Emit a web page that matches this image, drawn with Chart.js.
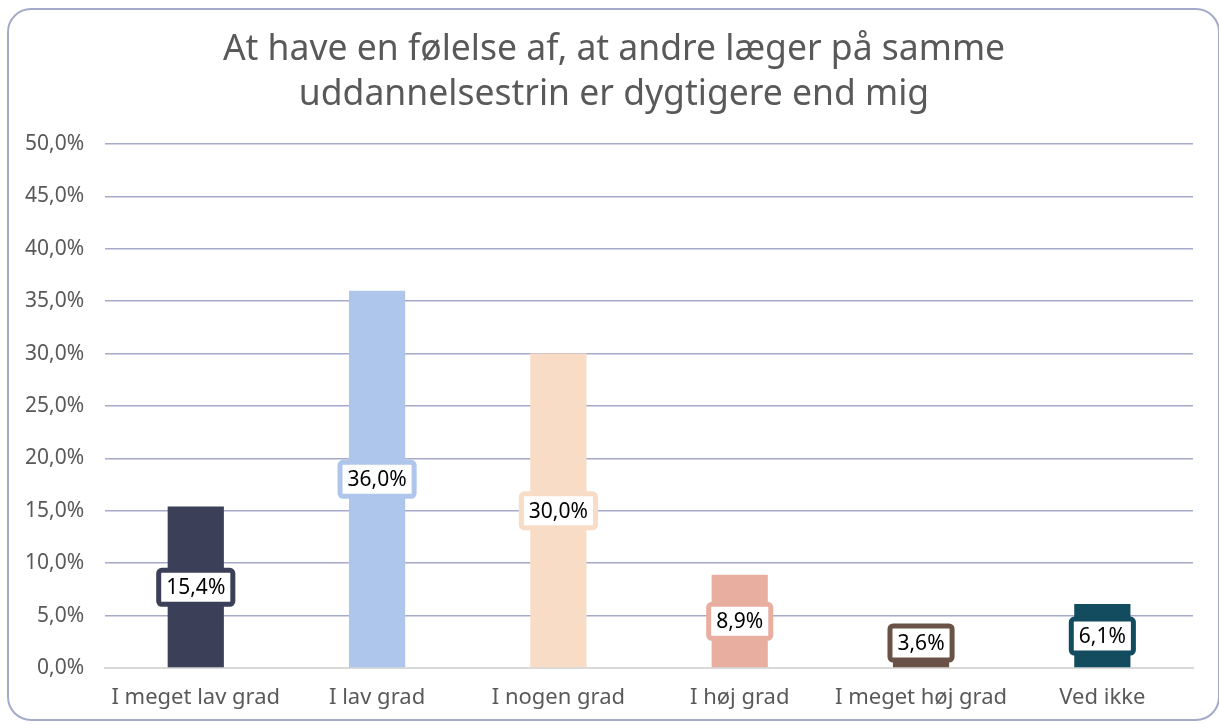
<!DOCTYPE html>
<html>
<head>
<meta charset="utf-8">
<script src="https://cdn.jsdelivr.net/npm/chart.js@4.4.1/dist/chart.umd.min.js"></script>
<style>
  html, body { margin: 0; padding: 0; background: #ffffff; overflow: hidden; }
  #frame {
    position: absolute; left: 7px; top: 8px; width: 1213px; height: 713px;
    border: 2px solid #a3abc9; border-radius: 24px; box-sizing: border-box;
  }
  #wrap { position: absolute; left: 0; top: 0; width: 1219px; height: 724px; }
</style>
</head>
<body>
<div id="frame"></div>
<div id="wrap"><canvas id="chart"></canvas></div>
<script>
// Kategorier og værdier (procent)
const categories = ['I meget lav grad', 'I lav grad', 'I nogen grad', 'I høj grad', 'I meget høj grad', 'Ved ikke'];
const values = [15.4, 36.0, 30.0, 8.9, 3.6, 6.1];
const barColors = ['#3b3f58', '#aec6ec', '#f9dcc6', '#e8aea0', '#6b5246', '#134b5f'];
const titleLines = ['At have en følelse af, at andre læger på samme', 'uddannelsestrin er dygtigere end mig'];

const FONT = '"Noto Sans"';

function pct(v) {
    return v.toFixed(1).replace('.', ',') + '%';
}

// Titlen centreres på rammen, ikke på plotområdet
const frameTitle = {
    id: 'frameTitle',
    afterDraw(chart) {
        const ctx = chart.ctx;
        ctx.save();
        ctx.font = '35.5px ' + FONT;
        ctx.fillStyle = '#595959';
        ctx.textAlign = 'center';
        ctx.textBaseline = 'middle';
        const cx = (chart.width + 9) / 2;
        titleLines.forEach((line, i) => ctx.fillText(line, cx, 50 + i * 45));
        ctx.restore();
    }
};

// Etiketter i hvide bokse med kant i søjlens farve
const boxLabels = {
    id: 'boxLabels',
    afterDatasetsDraw(chart) {
        const ctx = chart.ctx;
        const meta = chart.getDatasetMeta(0);
        const zeroY = chart.scales.y.getPixelForValue(0);
        ctx.save();
        ctx.font = '21px ' + FONT;
        ctx.textAlign = 'center';
        ctx.textBaseline = 'middle';
        meta.data.forEach((bar, i) => {
            const text = pct(values[i]);
            const w = ctx.measureText(text).width + 15;
            const h = 34;
            let cy = (bar.y + zeroY) / 2;
            if (cy + h / 2 > zeroY - 8) cy = zeroY - 8 - h / 2;
            const x = bar.x - w / 2;
            const y = cy - h / 2;
            ctx.beginPath();
            ctx.roundRect(x, y, w, h, 3);
            ctx.fillStyle = '#ffffff';
            ctx.fill();
            ctx.lineWidth = 5;
            ctx.strokeStyle = barColors[i];
            ctx.stroke();
            ctx.fillStyle = '#000000';
            ctx.fillText(text, bar.x, cy + 1);
        });
        ctx.restore();
    }
};

new Chart(document.getElementById('chart'), {
    type: 'bar',
    data: {
        labels: categories,
        datasets: [{
            data: values,
            backgroundColor: barColors,
            borderWidth: 0,
            categoryPercentage: 1,
            barPercentage: 0.31
        }]
    },
    options: {
        responsive: true,
        maintainAspectRatio: false,
        animation: false,
        layout: { padding: { left: 4, right: 26, top: 144, bottom: -4 } },
        plugins: {
            legend: { display: false },
            tooltip: { enabled: false },
            title: { display: false }
        },
        scales: {
            x: {
                grid: { display: false, drawTicks: false },
                border: { display: true, color: '#d9d9d9', width: 2 },
                ticks: {
                    color: '#595959',
                    font: { family: FONT, size: 22, lineHeight: 1 },
                    padding: 19,
                    maxRotation: 0
                }
            },
            y: {
                min: 0,
                max: 50,
                grid: { color: '#a5aacb', lineWidth: 1.5, drawTicks: false },
                border: { display: false },
                ticks: {
                    stepSize: 5,
                    color: '#595959',
                    font: { family: FONT, size: 21 },
                    padding: 21,
                    callback: v => pct(v)
                }
            }
        }
    },
    plugins: [boxLabels, frameTitle]
});
</script>
</body>
</html>
